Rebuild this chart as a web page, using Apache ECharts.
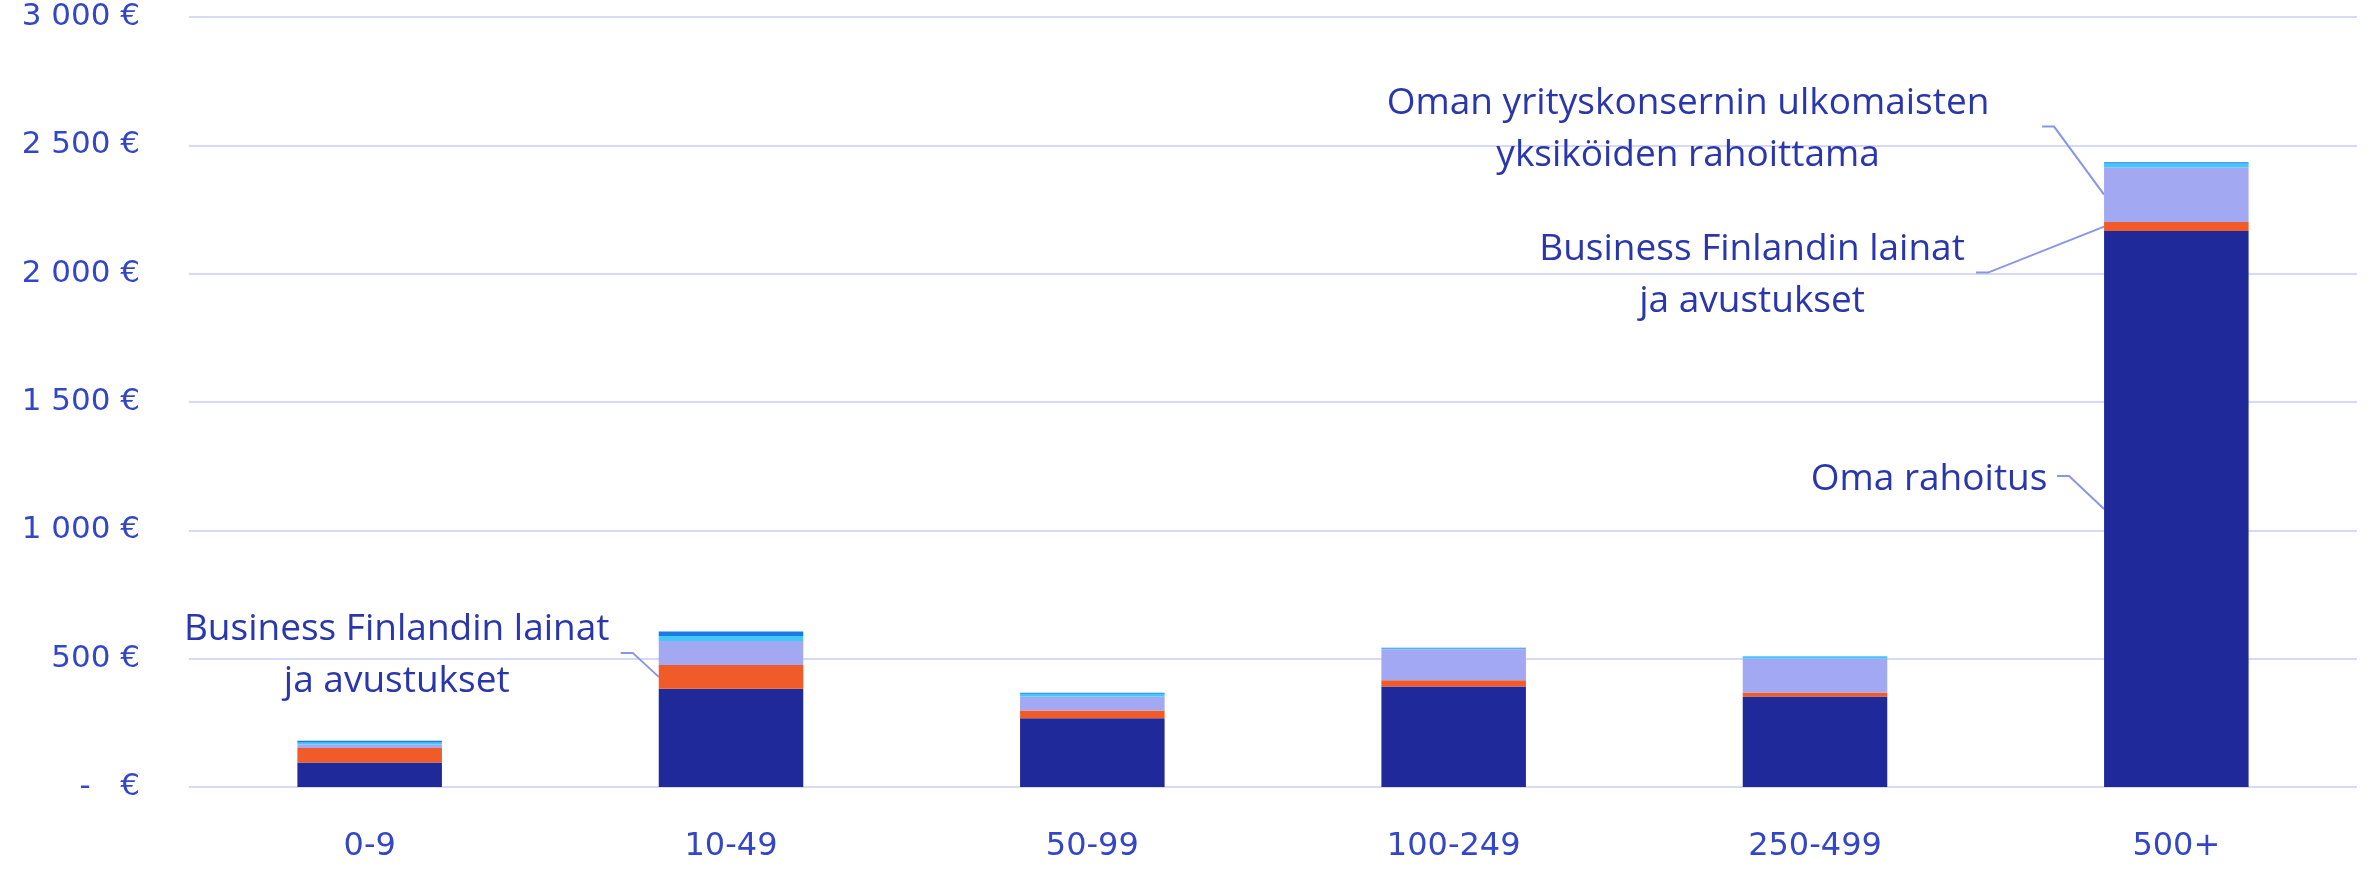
<!DOCTYPE html>
<html>
<head>
<meta charset="utf-8">
<title>Rahoitus</title>
<script src="https://cdn.jsdelivr.net/npm/echarts@6/dist/echarts.min.js"></script>
<style>
  html, body { margin: 0; padding: 0; background: #fff; }
  #chart { width: 2372px; height: 869px; }
</style>
</head>
<body>
<div id="chart"></div>
<script>
// henkilöstön kokoluokat
var categories = ['0-9', '10-49', '50-99', '100-249', '250-499', '500+'];
// pinottavat sarjat alhaalta ylös
var omaRahoitus = [95, 383, 268, 392, 353, 2166];
var businessFinland = [57, 92, 30, 24, 15, 35];
var ulkomaisetYksikot = [14, 94, 55, 121, 133, 214];
var muuJulkinen = [7, 18, 10, 3, 7, 14];
var muuRahoitus = [7, 19, 4, 3, 1, 5];
var yTicks = [0, 500, 1000, 1500, 2000, 2500, 3000];

var seriesList = [
  { name: 'Oma rahoitus', data: omaRahoitus, color: '#20299A' },
  { name: 'Business Finlandin lainat ja avustukset', data: businessFinland, color: '#F15A29' },
  { name: 'Oman yrityskonsernin ulkomaisten yksiköiden rahoittama', data: ulkomaisetYksikot, color: '#A3A8F2' },
  { name: 'Muu julkinen rahoitus', data: muuJulkinen, color: '#3CCBFB' },
  { name: 'Muu rahoitus', data: muuRahoitus, color: '#1A7BE6' }
];

// selitteet: mihin palkkiin ja sarjaan viiva osoittaa, viivan taite ja tekstin siirto
var annotations = [
  { cat: 1, series: 1, text: 'Business Finlandin lainat\nja avustukset', elbow: [-26, -24], textDx: -224 },
  { cat: 5, series: 2, text: 'Oman yrityskonsernin ulkomaisten\nyksiköiden rahoittama', elbow: [-50, -68], textDx: -354 },
  { cat: 5, series: 1, text: 'Business Finlandin lainat\nja avustukset', elbow: [-116, 46], textDx: -224 },
  { cat: 5, series: 0, text: 'Oma rahoitus', elbow: [-35, -33], textDx: -128 }
];

var tickFont = "'DejaVu Sans', sans-serif";
var noteFont = "'Open Sans', sans-serif";
var axisColor = '#3346C8';

function formatEuro(v) {
  if (v === 0) return '-   €';
  return String(v).replace(/\B(?=(\d{3})+(?!\d))/g, ' ') + ' €';
}

var chart = echarts.init(document.getElementById('chart'));

var option = {
  animation: false,
  backgroundColor: '#fff',
  grid: {
    left: 189, right: 15, top: 17, bottom: 82,
    containLabel: false,
    outerBoundsMode: 'none'
  },
  xAxis: {
    type: 'category',
    data: categories,
    axisLine: { show: false },
    axisTick: { show: false },
    axisLabel: {
      color: axisColor,
      fontFamily: tickFont,
      fontSize: 32,
      margin: 44
    }
  },
  yAxis: {
    type: 'value',
    min: yTicks[0],
    max: yTicks[yTicks.length - 1],
    interval: 500,
    axisLine: { show: false },
    axisTick: { show: false },
    axisLabel: {
      color: axisColor,
      fontFamily: tickFont,
      fontSize: 31,
      margin: 49,
      formatter: formatEuro
    },
    splitLine: {
      lineStyle: { color: '#D6DAF4', width: 2 }
    }
  },
  series: seriesList.map(function (s) {
    return {
      name: s.name,
      type: 'bar',
      stack: 'total',
      barWidth: '40%',
      data: s.data,
      itemStyle: { color: s.color }
    };
  })
};

chart.setOption(option);

function drawNotes() {
  var x0 = chart.convertToPixel({ xAxisIndex: 0 }, 0);
  var x1 = chart.convertToPixel({ xAxisIndex: 0 }, 1);
  var barW = (x1 - x0) * 0.4;
  var elements = [];
  annotations.forEach(function (a) {
    var below = 0;
    for (var i = 0; i < a.series; i++) below += seriesList[i].data[a.cat];
    var mid = below + seriesList[a.series].data[a.cat] / 2;
    var ax = chart.convertToPixel({ xAxisIndex: 0 }, a.cat) - barW / 2;
    var ay = chart.convertToPixel({ yAxisIndex: 0 }, mid);
    var ex = ax + a.elbow[0];
    var ey = ay + a.elbow[1];
    var sx = ex - 12;
    elements.push({
      type: 'polyline',
      silent: true,
      shape: { points: [[sx, ey], [ex, ey], [ax, ay]] },
      style: { stroke: '#8A95E8', lineWidth: 2, fill: null }
    });
    elements.push({
      type: 'text',
      silent: true,
      x: sx + a.textDx,
      y: ey + 3,
      style: {
        text: a.text,
        fill: '#2A37AC',
        fontFamily: noteFont,
        fontSize: 37,
        lineHeight: 52,
        align: 'center',
        verticalAlign: 'middle'
      }
    });
  });
  chart.setOption({ graphic: elements });
}

drawNotes();
</script>
</body>
</html>
